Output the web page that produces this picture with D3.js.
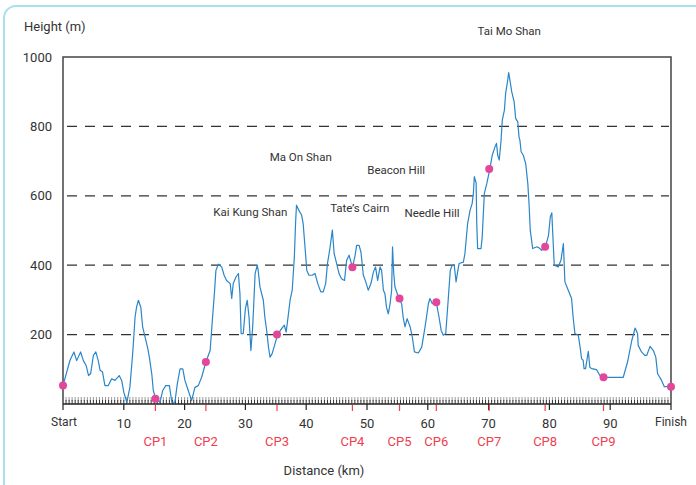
<!DOCTYPE html>
<html><head><meta charset="utf-8">
<script src="https://cdn.jsdelivr.net/npm/d3@7"></script>
<style>
html,body{margin:0;padding:0;background:#fff;}
svg{display:block;font-family:Roboto,"Noto Sans",sans-serif;}
</style></head>
<body>
<svg id="chart" width="696" height="485"></svg>
<script>
// ---- data ----
const distKm = [0,1.15,1.8,2.25,2.9,3.35,3.8,4.2,4.55,5.0,5.4,5.8,6.1,6.5,6.9,7.45,8.0,8.55,9.25,9.65,10.0,10.5,11.0,11.5,11.85,12.1,12.4,12.8,13.1,13.5,13.9,14.2,14.6,14.85,15.25,15.95,16.4,16.9,17.5,17.9,18.4,18.8,19.25,19.7,20.05,20.6,21.15,21.7,22.25,22.8,23.5,24.2,24.6,24.9,25.15,25.55,26.1,26.5,26.9,27.5,27.75,28.0,28.45,28.85,29.1,29.3,29.65,30.0,30.3,30.6,30.9,31.2,31.6,31.95,32.1,32.4,32.95,33.2,33.5,33.8,34.05,34.4,35.3,35.95,36.4,36.7,36.95,37.35,37.7,38.05,38.25,38.4,38.8,39.25,39.5,39.8,40.1,40.45,41.0,41.45,41.9,42.4,42.8,43.2,43.5,43.9,44.3,44.6,45.0,45.4,45.8,46.3,46.65,47.05,47.6,48.0,48.3,48.7,49.0,49.4,49.8,50.2,50.65,51.05,51.4,51.75,52.15,52.4,52.7,52.95,53.2,53.5,53.8,54.05,54.2,54.4,54.6,55.25,55.7,55.95,56.25,56.6,57.1,57.45,57.8,58.45,59.0,59.55,60.1,60.35,60.75,61.4,61.85,62.2,62.55,62.95,63.35,63.7,64.0,64.35,64.65,64.9,65.15,65.85,66.1,66.55,66.95,67.3,67.5,67.65,67.95,68.05,68.2,68.75,68.95,69.3,69.7,70.2,70.6,71.05,71.3,71.5,71.75,72.05,72.25,72.6,72.8,73.15,73.3,73.5,73.8,74.2,74.45,74.8,75.0,75.15,75.35,75.7,76.1,76.45,76.65,76.85,77.25,77.95,78.3,78.75,79.35,79.85,80.15,80.4,80.5,80.8,81.45,81.9,82.3,82.55,83.1,83.65,83.9,84.2,84.75,85.05,85.3,85.55,85.7,85.95,86.4,86.65,86.95,87.75,88.3,88.85,89.7,92.15,92.85,93.55,94.1,94.5,94.6,95.15,95.7,96.0,96.55,97.1,97.5,97.8,98.45,98.9,100];
const heightM = [53,126,150,125,150,125,111,82,88,140,150,125,97,92,53,53,73,68,82,68,34,5,48,154,250,279,299,279,222,193,164,135,87,39,15,5,39,53,53,5,5,58,101,101,68,39,10,48,53,77,121,154,250,318,385,403,395,371,356,347,304,347,366,376,318,203,203,275,299,250,154,222,376,400,385,337,299,250,212,164,135,145,200,217,227,207,241,299,328,424,520,573,558,544,520,453,385,371,371,376,347,323,323,347,405,448,501,433,405,376,361,356,414,429,394,424,457,457,438,371,352,328,347,380,395,356,395,385,328,318,279,260,289,328,453,376,337,304,289,250,222,246,222,193,150,147,164,222,289,304,289,293,250,212,198,203,299,385,400,400,352,380,405,409,433,520,558,578,607,655,637,520,448,448,481,607,635,677,717,741,751,717,703,760,818,847,895,934,955,934,900,871,823,813,770,760,727,717,693,635,578,501,448,453,450,443,453,486,539,551,510,400,395,414,462,352,328,304,250,203,198,164,130,126,102,102,152,106,102,99,82,77,77,77,121,183,219,203,169,150,140,140,166,154,135,87,68,50,50];

const checkpointNames = ["CP1","CP2","CP3","CP4","CP5","CP6","CP7","CP8","CP9"];
const checkpointKm = [15.2,23.5,35.2,47.6,55.35,61.4,70.1,79.3,88.9];
const checkpointHeight = [15,121,200,394,304,293,677,453,77];
const startFinishKm = [0,100];
const startFinishHeight = [53,50];
const startFinishLabels = ["Start","Finish"];

const peakNames = ["Tai Mo Shan","Ma On Shan","Beacon Hill","Tate\u2019s Cairn","Kai Kung Shan","Needle Hill"];
const peakLabelKm = [73.4,39.1,54.8,48.8,30.8,60.7];
const peakLabelHeight = [1063,700,662,553,543,540];

const xTicks = [10,20,30,40,50,60,70,80,90];
const yTicks = [200,400,600,800,1000];
const yGrid = [200,400,600,800];

// ---- layout ----
const svg = d3.select("#chart");
const L = 63, R = 671, T = 57, B = 404;
const x = d3.scaleLinear().domain([0,100]).range([L,R]);
const y = d3.scaleLinear().domain([0,1000]).range([B,T]);
const textCol = "#333";

// card border
svg.append("rect").attr("x",4).attr("y",6).attr("width",730).attr("height",540)
  .attr("rx",12).attr("fill","none").attr("stroke","#a6e1f2").attr("stroke-width",2);

// axis titles
svg.append("text").attr("x",24).attr("y",31).attr("font-size",13).attr("fill",textCol).text("Height (m)");
svg.append("text").attr("x",324).attr("y",475).attr("text-anchor","middle")
  .attr("font-size",13).attr("fill",textCol).text("Distance (km)");

// grid
svg.append("g").selectAll("line").data(yGrid).join("line")
  .attr("x1",L+4).attr("x2",R-2).attr("y1",d=>y(d)).attr("y2",d=>y(d))
  .attr("stroke","#333").attr("stroke-width",1.2).attr("stroke-dasharray","10,8");

// plot frame (top, left, right)
svg.append("path").attr("d",`M${L},${B}V${T}H${R}V${B}`).attr("fill","none")
  .attr("stroke","#444").attr("stroke-width",1.5);

// y tick labels
svg.append("g").selectAll("text").data(yTicks).join("text")
  .attr("x",52).attr("y",d=>y(d)+4.5).attr("text-anchor","end")
  .attr("font-size",13).attr("fill",textCol).text(d=>d);

// minor ticks every 0.5 km
const minor = d3.range(0.5,100,0.5);
const mt = svg.append("g");
mt.selectAll("line.a").data(minor).join("line").attr("class","a")
  .attr("x1",d=>x(d)).attr("x2",d=>x(d)).attr("y1",B-7).attr("y2",B-3)
  .attr("stroke","#999").attr("stroke-width",1);
mt.selectAll("line.b").data(minor).join("line").attr("class","b")
  .attr("x1",d=>x(d)).attr("x2",d=>x(d)).attr("y1",B-4).attr("y2",B)
  .attr("stroke","#333").attr("stroke-width",1);

// x axis line
svg.append("line").attr("x1",L).attr("x2",R).attr("y1",B).attr("y2",B)
  .attr("stroke","#222").attr("stroke-width",1.5);

// major ticks
svg.append("g").selectAll("line").data(xTicks.concat(startFinishKm)).join("line")
  .attr("x1",d=>x(d)).attr("x2",d=>x(d)).attr("y1",B).attr("y2",B+6)
  .attr("stroke","#222").attr("stroke-width",1.2);
svg.append("g").selectAll("text").data(xTicks).join("text")
  .attr("x",d=>x(d)).attr("y",428).attr("text-anchor","middle")
  .attr("font-size",13).attr("fill",textCol).text(d=>d);
svg.append("g").selectAll("text").data(startFinishKm).join("text")
  .attr("x",(d,i)=>x(d)+(i===0?1:0)).attr("y",426).attr("text-anchor","middle")
  .attr("font-size",12).attr("fill",textCol).text((d,i)=>startFinishLabels[i]);

// checkpoint ticks + labels
const cpCol = "#ef3e4f";
svg.append("g").selectAll("line").data(checkpointKm).join("line")
  .attr("x1",d=>x(d)).attr("x2",d=>x(d)).attr("y1",B+1).attr("y2",B+7)
  .attr("stroke",cpCol).attr("stroke-width",1.2);
svg.append("g").selectAll("text").data(checkpointKm).join("text")
  .attr("x",d=>x(d)).attr("y",446).attr("text-anchor","middle")
  .attr("font-size",13).attr("fill",cpCol).text((d,i)=>checkpointNames[i]);

// profile line
const pts = distKm.map((d,i)=>[d,heightM[i]]);
svg.append("path").datum(pts)
  .attr("d",d3.line().x(d=>x(d[0])).y(d=>y(d[1])))
  .attr("fill","none").attr("stroke","#2a86c8").attr("stroke-width",1.2).attr("stroke-linejoin","round");

// dots
const dots = startFinishKm.map((d,i)=>[d,startFinishHeight[i]])
  .concat(checkpointKm.map((d,i)=>[d,checkpointHeight[i]]));
svg.append("g").selectAll("circle").data(dots).join("circle")
  .attr("cx",d=>x(d[0])).attr("cy",d=>y(d[1])).attr("r",4)
  .attr("fill","#e3479a");

// peak labels
svg.append("g").selectAll("text").data(peakNames).join("text")
  .attr("x",(d,i)=>x(peakLabelKm[i])).attr("y",(d,i)=>y(peakLabelHeight[i]))
  .attr("text-anchor","middle").attr("font-size",11.5).attr("fill",textCol).text(d=>d);
</script>
</body></html>
